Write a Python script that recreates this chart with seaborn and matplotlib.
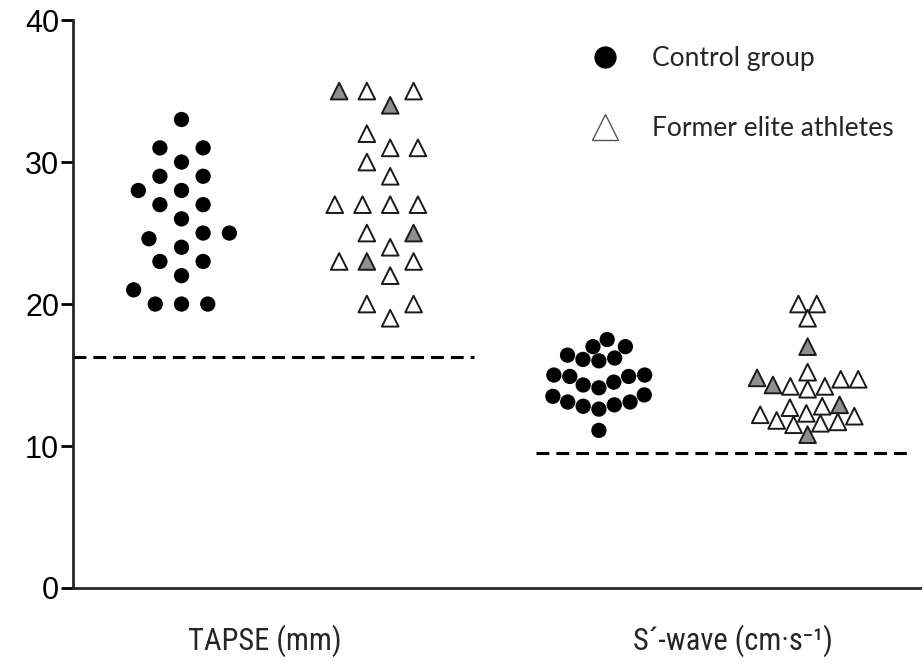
import matplotlib

matplotlib.use("Agg")

import matplotlib.pyplot as plt
import matplotlib.font_manager as fm
import matplotlib.patheffects as pe
from matplotlib.lines import Line2D
import pandas as pd
import seaborn as sns

# ── data ──
tapse_control = [33, 31, 31, 30, 29, 29, 28, 28, 27, 27, 26, 25, 25, 24.6, 24,
                 23, 23, 22, 21, 20, 20, 20]
tapse_athletes = [35, 35, 35, 34, 32, 31, 31, 30, 29, 27, 27, 27, 27, 25, 25,
                  24, 23, 23, 23, 22, 20, 20, 19]
tapse_athletes_fill = ["open", "shaded", "open", "shaded", "open", "open", "open",
                       "open", "open", "open", "open", "open", "open", "shaded",
                       "open", "open", "open", "shaded", "open", "open", "open",
                       "open", "open"]

swave_control = [17.5, 17.0, 16.4, 17.0, 16.2, 16.1, 14.9, 16.0, 15.0, 14.3, 15.0,
                 14.1, 14.9, 13.6, 12.8, 13.1, 13.1, 12.6, 13.5, 12.9, 11.1, 14.5]
swave_athletes = [20, 20, 19, 17, 14.7, 14.2, 14.8, 14.3, 15.2, 14.7, 14.2, 14.0,
                  11.8, 12.7, 11.6, 12.9, 12.3, 10.8, 12.8, 12.1, 11.5, 12.2, 11.7]
swave_athletes_fill = ["open", "open", "open", "shaded", "open", "open", "shaded",
                       "shaded", "open", "open", "open", "open", "open", "open",
                       "open", "shaded", "open", "shaded", "open", "open", "open",
                       "open", "open"]

slots = ["TAPSE control", "TAPSE athletes", "S control", "S athletes"]
tick_labels = ["TAPSE (mm)", "S\u00b4-wave (cm\u00b7s\u207b\u00b9)"]
legend_labels = ["Control group", "Former elite athletes"]

# cut-off lines
TAPSE_CUTOFF = 16.3
SWAVE_CUTOFF = 9.5

control_df = pd.DataFrame({
    "measure": ["TAPSE"] * len(tapse_control) + ["S"] * len(swave_control),
    "slot": ["TAPSE control"] * len(tapse_control) + ["S control"] * len(swave_control),
    "value": tapse_control + swave_control,
})
athletes_df = pd.DataFrame({
    "measure": ["TAPSE"] * len(tapse_athletes) + ["S"] * len(swave_athletes),
    "slot": ["TAPSE athletes"] * len(tapse_athletes) + ["S athletes"] * len(swave_athletes),
    "value": tapse_athletes + swave_athletes,
    "fill": tapse_athletes_fill + swave_athletes_fill,
})

# narrow font for the category labels, if one is around
_NARROW_CANDIDATES = ["Liberation Sans Narrow", "Roboto Condensed", "DejaVu Sans Condensed",
                      "Open Sans Condensed"]
_installed = {f.name for f in fm.fontManager.ttflist}
_narrow = next((n for n in _NARROW_CANDIDATES if n in _installed), None)

sns.set_theme(style="ticks")
plt.rcParams["font.family"] = ["Liberation Sans", "DejaVu Sans"]
plt.rcParams["axes.linewidth"] = 2.0

fig = plt.figure(figsize=(9.24, 6.70), dpi=100)
ax = fig.add_axes([0.079, 0.1224, 0.917, 0.8476])

# transparent wide edge -> looser swarm spacing (the TAPSE columns are spread out,
# the S'-wave clusters are packed tight)
swarm_pad = {"TAPSE": 7, "S": 0}

for measure, pad in swarm_pad.items():
    sns.swarmplot(data=control_df[control_df["measure"] == measure], x="slot", y="value",
                  order=slots, color="black", marker="o", size=11, linewidth=pad,
                  edgecolor="none", ax=ax)
    n_before = len(ax.collections)
    sns.swarmplot(data=athletes_df[athletes_df["measure"] == measure], x="slot", y="value",
                  order=slots, hue="fill", hue_order=["open", "shaded"],
                  palette={"open": "white", "shaded": "#8f8f8f"},
                  marker="^", size=12, edgecolor="none", linewidth=pad,
                  legend=False, ax=ax)
    for coll in ax.collections[n_before:]:
        coll.set_path_effects([pe.Stroke(linewidth=1.4, foreground="#1a1a1a")])

ax.set_xlim(-0.52, 3.54)
ax.set_ylim(0, 40)

dash_style = dict(color="black", linewidth=2.2, linestyles=(0, (4.2, 2.3)))
ax.hlines(TAPSE_CUTOFF, -0.52, 1.40, **dash_style)
ax.hlines(SWAVE_CUTOFF, 1.70, 3.48, **dash_style)

ax.set_yticks([0, 10, 20, 30, 40])
ax.tick_params(axis="y", length=9, width=2.0, labelsize=22, pad=1, colors="black")
ax.set_xticks([0.40, 2.64])
ax.set_xticklabels(tick_labels)
ax.tick_params(axis="x", length=0, pad=26)
for lbl in ax.get_xticklabels():
    if _narrow:
        lbl.set_family([_narrow, "DejaVu Sans"])
        lbl.set_fontsize(22)
    else:
        lbl.set_fontsize(18)
ax.set_xlabel("")
ax.set_ylabel("")
sns.despine(ax=ax)

handles = [
    Line2D([], [], marker="o", linestyle="none", color="black", markersize=15),
    Line2D([], [], marker="^", linestyle="none", markerfacecolor="white",
           markeredgecolor="#555555", markeredgewidth=1.0, markersize=19),
]
fig.legend(handles, legend_labels, loc="upper left", bbox_to_anchor=(0.6264, 0.951),
           frameon=False, handlelength=1.0, handletextpad=1.28, labelspacing=1.7,
           borderpad=0, prop={"family": ["Lato", "DejaVu Sans"], "size": 19})

fig.savefig("out.png", dpi=100)
